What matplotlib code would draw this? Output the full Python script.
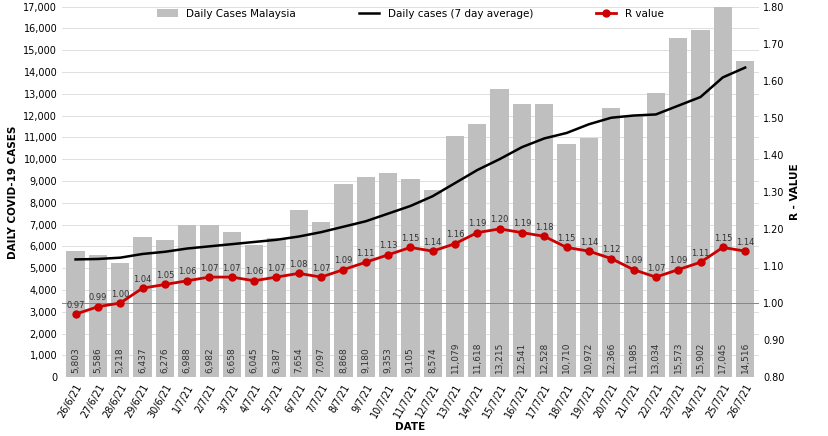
import matplotlib
matplotlib.use("Agg")
import matplotlib.pyplot as plt

dates = ["26/6/21","27/6/21","28/6/21","29/6/21","30/6/21","1/7/21","2/7/21","3/7/21","4/7/21","5/7/21",
         "6/7/21","7/7/21","8/7/21","9/7/21","10/7/21","11/7/21","12/7/21","13/7/21","14/7/21","15/7/21",
         "16/7/21","17/7/21","18/7/21","19/7/21","20/7/21","21/7/21","22/7/21","23/7/21","24/7/21","25/7/21","26/7/21"]
cases = [5803,5586,5218,6437,6276,6988,6982,6658,6045,6387,7654,7097,8868,9180,9353,9105,8574,11079,11618,13215,
         12541,12528,10710,10972,12366,11985,13034,15573,15902,17045,14516]
avg7 = [5400,5420,5480,5650,5750,5900,6000,6100,6200,6300,6450,6650,6900,7150,7500,7850,8300,8900,9500,10000,
        10550,10950,11200,11600,11900,12000,12050,12450,12850,13750,14200]
rval = [0.97,0.99,1.00,1.04,1.05,1.06,1.07,1.07,1.06,1.07,1.08,1.07,1.09,1.11,1.13,1.15,1.14,1.16,1.19,1.20,
        1.19,1.18,1.15,1.14,1.12,1.09,1.07,1.09,1.11,1.15,1.14]

fig, ax = plt.subplots(figsize=(8.29, 4.36), dpi=100)
fig.subplots_adjust(left=0.075, right=0.915, top=0.985, bottom=0.135)
x = list(range(len(dates)))
bars = ax.bar(x, cases, width=0.82, color="#bfbfbf", label="Daily Cases Malaysia")
for i, v in enumerate(cases):
    ax.text(i, 200, f"{v:,}", rotation=90, ha="center", va="bottom", fontsize=6.5, color="#333333")
line, = ax.plot(x, avg7, color="black", lw=1.8, label="Daily cases (7 day average)")
ax.set_ylim(0, 17000)
ax.set_yticks(range(0, 17001, 1000))
ax.set_yticklabels([f"{v:,}" for v in range(0, 17001, 1000)], fontsize=7)
ax.set_xlim(-0.6, len(dates) - 0.4)
ax.set_xticks(x)
ax.set_xticklabels(dates, rotation=60, fontsize=7, ha="right", rotation_mode="anchor")
ax.set_ylabel("DAILY COVID-19 CASES", fontsize=7.5, fontweight="bold")
ax.set_xlabel("DATE", fontsize=7.5, fontweight="bold", labelpad=2)
ax.grid(axis="y", color="#d9d9d9", lw=0.6)
ax.set_axisbelow(True)
for s in ax.spines.values():
    s.set_visible(False)
ax.tick_params(length=0)

ax2 = ax.twinx()
ax2.axhline(1.0, color="#e06060", lw=0.7)
rl, = ax2.plot(x, rval, color="#cc0000", lw=2, marker="o", ms=5, label="R value")
for i, v in enumerate(rval):
    ax2.text(i, v + 0.012, f"{v:.2f}", ha="center", va="bottom", fontsize=6, color="#333333")
ax2.set_ylim(0.8, 1.8)
ax2.set_yticks([0.8 + 0.1 * k for k in range(11)])
ax2.set_yticklabels([f"{0.8 + 0.1 * k:.2f}" for k in range(11)], fontsize=7)
ax2.set_ylabel("R - VALUE", fontsize=7.5, fontweight="bold")
for s in ax2.spines.values():
    s.set_visible(False)
ax2.tick_params(length=0)

ax2.legend([bars, line, rl], ["Daily Cases Malaysia", "Daily cases (7 day average)", "R value"],
           loc="upper center", ncol=3, frameon=False, fontsize=7.5,
           bbox_to_anchor=(0.5, 1.02), columnspacing=6)
fig.savefig("out.png")
